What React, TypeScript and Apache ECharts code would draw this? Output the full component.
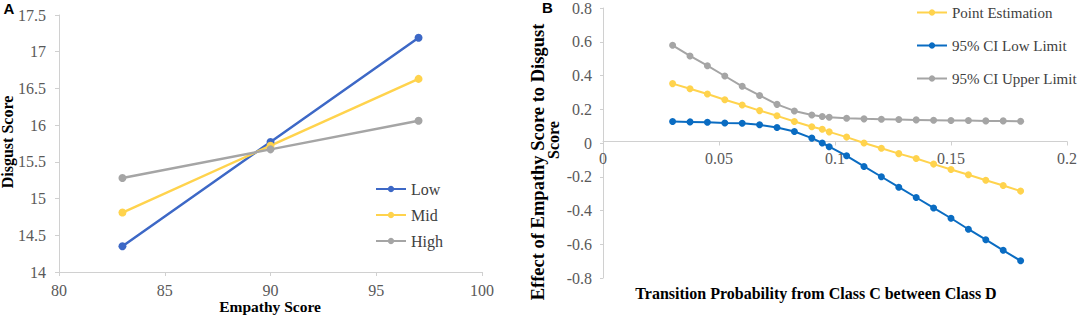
import React, { useEffect, useRef } from "react";
import * as echarts from "echarts";

// Panel A
const empathyX = [83, 90, 97];
const lowA = [14.35, 15.77, 17.19];
const midA = [14.81, 15.72, 16.63];
const highA = [15.28, 15.67, 16.06];

// Panel B
const probX = [0.03, 0.0375, 0.045, 0.0525, 0.06, 0.0675, 0.075, 0.0825, 0.09, 0.0945, 0.0975, 0.105, 0.1125, 0.12, 0.1275, 0.135, 0.1425, 0.15, 0.1575, 0.165, 0.1725, 0.18];
const pointEst = [0.352, 0.321, 0.29, 0.256, 0.225, 0.192, 0.161, 0.127, 0.096, 0.082, 0.066, 0.035, 0.0, -0.031, -0.063, -0.092, -0.125, -0.157, -0.188, -0.221, -0.252, -0.285];
const ciLow = [0.127, 0.125, 0.123, 0.119, 0.117, 0.108, 0.092, 0.068, 0.029, 0.0, -0.022, -0.076, -0.139, -0.2, -0.262, -0.323, -0.385, -0.446, -0.511, -0.573, -0.636, -0.698];
const ciUp = [0.579, 0.516, 0.458, 0.397, 0.336, 0.282, 0.229, 0.19, 0.166, 0.157, 0.153, 0.147, 0.143, 0.141, 0.139, 0.137, 0.135, 0.133, 0.133, 0.131, 0.131, 0.129];

const namesA = ["Low", "Mid", "High"];
const namesB = ["Point Estimation", "95% CI Low Limit", "95% CI Upper Limit"];

const SERIF = "Liberation Serif";
const BLUE_A = "#3D68C6";
const BLUE_B = "#0A6CC2";
const YELLOW = "#FFD34D";
const GRAY = "#A5A5A5";
const AXIS = "#D0D0D0";
const TICKTXT = "#595959";

const zip = (xs: number[], ys: number[]) => xs.map((x, i) => [x, ys[i]]);

export default function App() {
  const ref = useRef<HTMLDivElement>(null);
  useEffect(() => {
    document.body.style.margin = "0";
    const chart = echarts.init(ref.current!, null, { renderer: "svg" });
    const axisCommon = {
      axisLine: { onZero: false, lineStyle: { color: AXIS, width: 1 } },
      axisTick: { show: true, length: 4, lineStyle: { color: AXIS } },
      splitLine: { show: false },
      axisLabel: { color: TICKTXT, fontFamily: SERIF, fontSize: 16 },
    };
    const lineSeries = (name: string, color: string, data: number[][], xi: number, size: number, w: number) => ({
      name,
      type: "line",
      xAxisIndex: xi,
      yAxisIndex: xi,
      data,
      symbol: "circle",
      symbolSize: size,
      itemStyle: { color },
      lineStyle: { color, width: w },
    });
    const titleStyle = (text: string, size = 16) => ({
      text,
      fill: "#000",
      fontFamily: SERIF,
      fontWeight: "bold",
      fontSize: size,
      align: "center",
      verticalAlign: "middle",
    });
    chart.setOption({
      animation: false,
      grid: [
        { left: 59, top: 15, width: 423, height: 257 },
        { left: 603, top: 5, width: 464, height: 273 },
      ],
      xAxis: [
        { ...axisCommon, gridIndex: 0, type: "value", min: 80, max: 100, interval: 5, axisLabel: { ...axisCommon.axisLabel, margin: 10 } },
        { ...axisCommon, gridIndex: 1, type: "value", position: "bottom", offset: -136.5, min: 0, max: 0.2, interval: 0.05, axisLabel: { ...axisCommon.axisLabel, margin: 9 } },
      ],
      yAxis: [
        { ...axisCommon, gridIndex: 0, type: "value", min: 14, max: 17.5, interval: 0.5, axisLabel: { ...axisCommon.axisLabel, margin: 13 } },
        { ...axisCommon, gridIndex: 1, type: "value", min: -0.8, max: 0.8, interval: 0.2, axisTick: { show: true, length: 3, lineStyle: { color: AXIS } }, axisLabel: { ...axisCommon.axisLabel, margin: 11 } },
      ],
      legend: [
        {
          data: namesA,
          orient: "vertical",
          left: 375,
          top: 181,
          padding: 0,
          itemWidth: 30,
          itemHeight: 8,
          itemGap: 10,
          textStyle: { color: "#404040", fontFamily: SERIF, fontSize: 16 },
        },
        {
          data: namesB,
          orient: "vertical",
          left: 916,
          top: 5,
          padding: 0,
          itemWidth: 30,
          itemHeight: 8,
          itemGap: 18,
          textStyle: { color: "#404040", fontFamily: SERIF, fontSize: 15 },
        },
      ],
      series: [
        lineSeries(namesA[0], BLUE_A, zip(empathyX, lowA), 0, 8, 2.5),
        lineSeries(namesA[1], YELLOW, zip(empathyX, midA), 0, 8, 2.5),
        lineSeries(namesA[2], GRAY, zip(empathyX, highA), 0, 8, 2.5),
        lineSeries(namesB[0], YELLOW, zip(probX, pointEst), 1, 7, 2),
        lineSeries(namesB[1], BLUE_B, zip(probX, ciLow), 1, 7, 2),
        lineSeries(namesB[2], GRAY, zip(probX, ciUp), 1, 7, 2),
      ],
      graphic: [
        { type: "text", x: 9, y: 8.5, style: { text: "A", fill: "#000", fontFamily: "Liberation Sans", fontWeight: "bold", fontSize: 15, align: "center", verticalAlign: "middle" } },
        { type: "text", x: 547.5, y: 7, style: { text: "B", fill: "#000", fontFamily: "Liberation Sans", fontWeight: "bold", fontSize: 15, align: "center", verticalAlign: "middle" } },
        { type: "text", x: 7.5, y: 142, rotation: Math.PI / 2, style: titleStyle("Disgust Score") },
        { type: "text", x: 270, y: 306, style: titleStyle("Empathy Score", 15.5) },
        { type: "text", x: 538, y: 162, rotation: Math.PI / 2, style: titleStyle("Effect of Empathy Score to Disgust", 18.5) },
        { type: "text", x: 553, y: 140, rotation: Math.PI / 2, style: titleStyle("Score", 16) },
        { type: "text", x: 816, y: 293, style: titleStyle("Transition Probability from Class C between Class D") },
      ],
    });
    return () => chart.dispose();
  }, []);
  return <div ref={ref} style={{ width: 1084, height: 319 }} />;
}
